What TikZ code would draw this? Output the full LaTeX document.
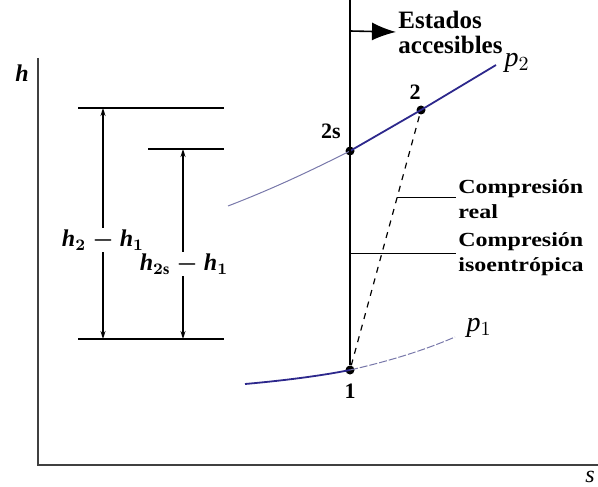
\documentclass[tikz,border=0pt]{standalone}
\usepackage{fontspec}
\setmainfont{Liberation Serif}
\newfontfamily\widefont[FakeStretch=1.2]{Liberation Serif}
\usetikzlibrary{arrows.meta}

\definecolor{curveblue}{RGB}{45,40,140}
\definecolor{fadeblue}{RGB}{120,120,170}

\begin{document}
\begin{tikzpicture}[
    x=0.5pt, y=-0.5pt,
    axis/.style={draw=black!75, line width=1pt},
    stateline/.style={draw=black, line width=0.8pt},
    state/.style={circle, fill=black, minimum size=4.5pt, inner sep=0pt},
    statelabel/.style={font=\fontsize{11}{12}\selectfont\bfseries},
    isobar/.style={draw=curveblue, line width=0.9pt},
    isobarfaint/.style={draw=fadeblue, line width=0.5pt},
    dimline/.style={draw=black, line width=0.6pt},
    dimarrow/.style={draw=black, line width=0.6pt, {Stealth[length=4pt,width=2.5pt]}-{Stealth[length=4pt,width=2.5pt]}},
    dimlabel/.style={fill=white, inner sep=1pt, font=\fontsize{12}{13}\selectfont\boldmath},
    proclabel/.style={align=left, anchor=west, inner sep=1pt,
                      font=\widefont\fontsize{10}{12.5}\selectfont\bfseries},
    leader/.style={draw=black, line width=0.5pt}
]
    \useasboundingbox (0,0) rectangle (598,486);

    % axes
    \coordinate (origin) at (38,465);
    \coordinate (htop) at (38,58);
    \coordinate (send) at (598,465);
    \draw[axis] (htop) -- (origin) -- (send);
    \node[font=\fontsize{12}{13}\selectfont\bfseries\itshape] (hlab) at (22,73) {h};
    \node[font=\fontsize{12}{13}\selectfont\itshape] (slab) at (590,477) {s};

    % states
    \node[state] (pt1) at (350,370) {};
    \node[state] (pt2s) at (350,151) {};
    \node[state] (pt2) at (421,110) {};
    \node[statelabel] at (350,391) {1};
    \node[statelabel] at (331,131) {2s};
    \node[statelabel] at (415,92) {2};

    % isobars
    \coordinate (p2a) at (228,206);
    \coordinate (p2b) at (496,65);
    \coordinate (p1a) at (245,384);
    \coordinate (p1b) at (455,337);
    \draw[isobarfaint] (p2a) .. controls (280,186) and (320,166) .. (pt2s.center);
    \draw[isobar] (pt2s.center) -- (pt2.center) -- (p2b);
    \draw[isobar] (p1a) .. controls (290,380) and (325,375) .. (pt1.center);
    \draw[isobarfaint, dash pattern=on 4pt off 1pt] (pt1.center) .. controls (385,362) and (420,352) .. (p1b);
    \node[font=\fontsize{14}{15}\selectfont] (p2lab) at (517,63) {$\mathit{p}_{2}$};
    \node[font=\fontsize{14}{15}\selectfont] (p1lab) at (479,328) {$\mathit{p}_{1}$};

    % isentropic line and accessible states
    \coordinate (vtop) at (350,0);
    \coordinate (arrstart) at (350,31);
    \draw[stateline] (vtop) -- (pt1);
    \node[align=left, anchor=west, inner sep=1pt,
          font=\fontsize{12.5}{12.5}\selectfont\bfseries] (acc) at (396,32)
        {Estados\\accesibles};
    \draw[stateline, -{Latex[length=12pt,width=9pt]}] (arrstart) -- (acc.west);

    % actual compression
    \draw[stateline, dashed, line width=0.6pt] (pt1) -- (pt2);
    \path (pt1) -- (pt2) coordinate[pos=0.67] (realpt);
    \node[proclabel] (realtxt) at (456,199) {Compresión\\real};
    \draw[leader] (realpt) -- (realpt -| realtxt.west);

    \coordinate (isopt) at (350,253);
    \node[proclabel] (isotxt) at (456,254) {Compresión\\isoentrópica};
    \draw[leader] (isopt) -- (isopt -| isotxt.west);

    % enthalpy differences
    \coordinate (t2a) at (78,108);
    \coordinate (t2b) at (224,108);
    \coordinate (t2sa) at (148,149);
    \coordinate (t2sb) at (224,149);
    \coordinate (t1a) at (78,339);
    \coordinate (t1b) at (224,339);
    \draw[dimline] (t2a) -- (t2b);
    \draw[dimline] (t2sa) -- (t2sb);
    \draw[dimline] (t1a) -- (t1b);
    \coordinate (d2top) at (103,108);
    \coordinate (d2bot) at (103,339);
    \coordinate (d2stop) at (183,149);
    \coordinate (d2sbot) at (183,339);
    \draw[dimarrow] (d2bot) -- (d2top);
    \draw[dimarrow] (d2sbot) -- (d2stop);
    \node[dimlabel] (dh) at (103,240) {$\mathit{h}_{2} - \mathit{h}_{1}$};
    \node[dimlabel] (dhs) at (184,264) {$\mathit{h}_{2\mathrm{s}} - \mathit{h}_{1}$};
\end{tikzpicture}
\end{document}
